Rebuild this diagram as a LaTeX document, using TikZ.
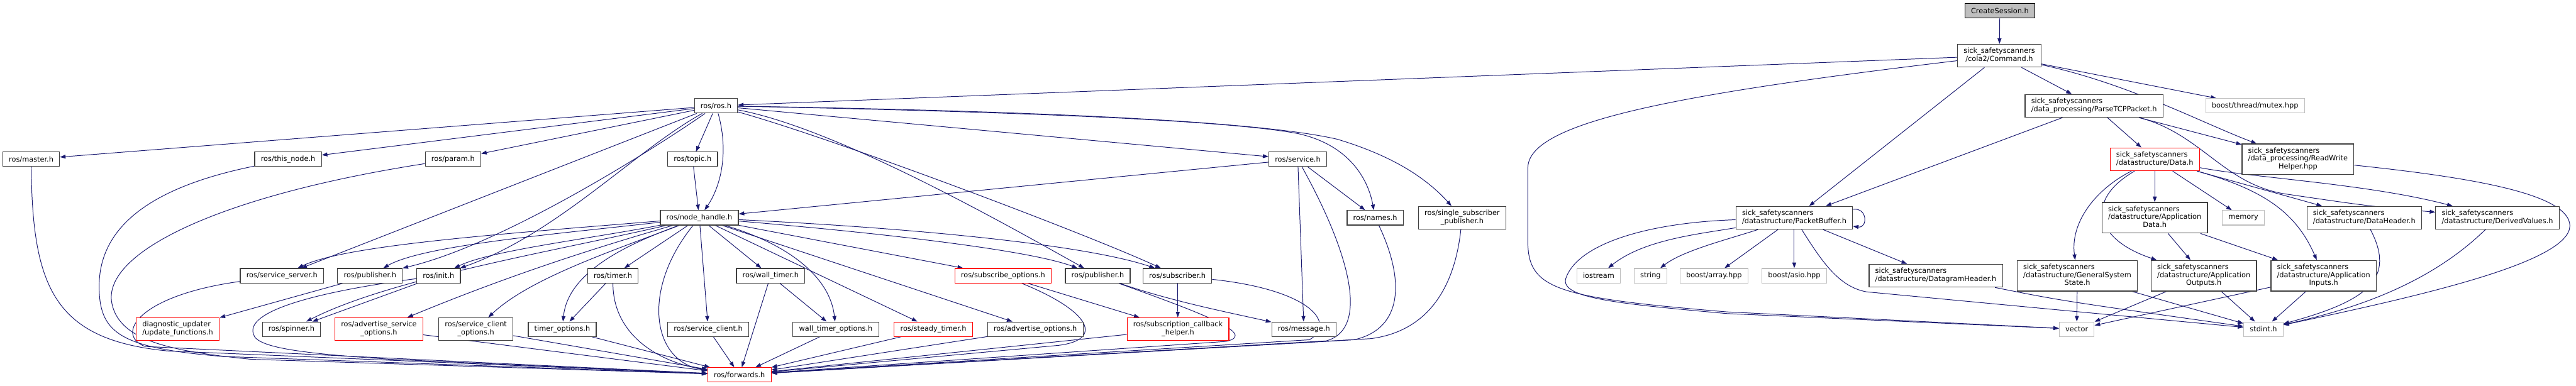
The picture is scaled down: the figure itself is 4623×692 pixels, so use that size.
\documentclass[tikz,border=0pt]{standalone}
\usepackage{fontspec}
\setmainfont{DejaVu Sans}
\usetikzlibrary{arrows.meta,calc}
\pgfdeclarelayer{bg}
\pgfsetlayers{bg,main}
\definecolor{edgec}{HTML}{191970}
\definecolor{nodeline}{HTML}{404040}
\definecolor{extline}{HTML}{BFBFBF}
\definecolor{csfill}{HTML}{BFBFBF}
\newcommand{\twol}[2]{\begin{tabular}{@{}l@{}}#1\\\multicolumn{1}{@{}c@{}}{#2}\end{tabular}}
\begin{document}
\begin{tikzpicture}[x=1pt,y=-1pt,
  box/.style={draw=nodeline,line width=1.3pt,fill=white,inner xsep=11pt,inner ysep=0pt,minimum height=26pt,font=\fontsize{12.8}{14}\selectfont},
  two/.style={minimum height=41pt},
  three/.style={minimum height=55pt},
  trunc/.style={draw=red},
  ext/.style={draw=extline},
  e/.style={draw=edgec,line width=1.1pt,-{Triangle[length=10pt,width=7pt]}}]
\useasboundingbox (0,0) rectangle (4623,692);
% ---- ROS nodes
\node[box] (ros) at (1285,190) {ros/ros.h};
\node[box] (master) at (56,286) {ros/master.h};
\node[box] (thisnode) at (517,286) {ros/this\_node.h};
\node[box] (param) at (813,286) {ros/param.h};
\node[box] (topic) at (1243,286) {ros/topic.h};
\node[box] (service) at (2329,286) {ros/service.h};
\node[box] (nh) at (1255,391) {ros/node\_handle.h};
\node[box] (names) at (2468,391) {ros/names.h};
\node[box,two] (ssp) at (2624,391) {\twol{ros/single\_subscriber}{\_publisher.h}};
\node[box] (sserver) at (506,495) {ros/service\_server.h};
\node[box] (pubL) at (664,495) {ros/publisher.h};
\node[box] (init) at (787,495) {ros/init.h};
\node[box] (timer) at (1100,495) {ros/timer.h};
\node[box] (wtimer) at (1383,495) {ros/wall\_timer.h};
\node[box,trunc] (subopt) at (1800,495) {ros/subscribe\_options.h};
\node[box] (pubR) at (1970,495) {ros/publisher.h};
\node[box] (sub) at (2113,495) {ros/subscriber.h};
\node[box,two,trunc] (diag) at (319,591) {\twol{diagnostic\_updater}{/update\_functions.h}};
\node[box] (spinner) at (523,591) {ros/spinner.h};
\node[box,two,trunc] (aso) at (680,591) {\twol{ros/advertise\_service}{\_options.h}};
\node[box,two] (sco) at (854,591) {\twol{ros/service\_client}{\_options.h}};
\node[box] (topt) at (1009,591) {timer\_options.h};
\node[box] (sclient) at (1271,591) {ros/service\_client.h};
\node[box] (wtopt) at (1500,591) {wall\_timer\_options.h};
\node[box,trunc] (stimer) at (1675,591) {ros/steady\_timer.h};
\node[box] (aopt) at (1858,591) {ros/advertise\_options.h};
\node[box,two,trunc] (sch) at (2114,591) {\twol{ros/subscription\_callback}{\_helper.h}};
\node[box] (msg) at (2340,591) {ros/message.h};
\node[box,trunc] (fwd) at (1327,673) {ros/forwards.h};
% ---- sick nodes
\node[box,fill=csfill,draw=black] (cs) at (3589,19) {CreateSession.h};
\node[box,two] (cmd) at (3588,100) {\twol{sick\_safetyscanners}{/cola2/Command.h}};
\node[box,two] (ptcp) at (3758,190) {\twol{sick\_safetyscanners}{/data\_processing/ParseTCPPacket.h}};
\node[box,ext] (mutex) at (4047,190) {boost/thread/mutex.hpp};
\node[box,two,trunc] (data) at (3867,286) {\twol{sick\_safetyscanners}{/datastructure/Data.h}};
\node[box,three] (rwh) at (4124,286) {\twol{sick\_safetyscanners\\/data\_processing/ReadWrite}{Helper.hpp}};
\node[box,two] (pb) at (3220,391) {\twol{sick\_safetyscanners}{/datastructure/PacketBuffer.h}};
\node[box,three] (appdata) at (3867,391) {\twol{sick\_safetyscanners\\/datastructure/Application}{Data.h}};
\node[box,ext] (memory) at (4026,391) {memory};
\node[box,two] (dh) at (4243,391) {\twol{sick\_safetyscanners}{/datastructure/DataHeader.h}};
\node[box,two] (dv) at (4482,391) {\twol{sick\_safetyscanners}{/datastructure/DerivedValues.h}};
\node[box,ext] (iostream) at (2869,495) {iostream};
\node[box,ext] (string) at (2962,495) {string};
\node[box,ext] (array) at (3076,495) {boost/array.hpp};
\node[box,ext] (asio) at (3220,495) {boost/asio.hpp};
\node[box,two] (dgh) at (3474,495) {\twol{sick\_safetyscanners}{/datastructure/DatagramHeader.h}};
\node[box,three] (gss) at (3728,495) {\twol{sick\_safetyscanners\\/datastructure/GeneralSystem}{State.h}};
\node[box,three] (aout) at (3955,495) {\twol{sick\_safetyscanners\\/datastructure/Application}{Outputs.h}};
\node[box,three] (ain) at (4170,495) {\twol{sick\_safetyscanners\\/datastructure/Application}{Inputs.h}};
\node[box,ext] (vector) at (3727,591) {vector};
\node[box,ext] (stdint) at (4062,591) {stdint.h};
\begin{pgfonlayer}{bg}
% ---- sick edges
\draw[e] (cs) -- (cmd);
\draw[e] (cmd) -- (ros);
\draw[e] (cmd) -- (ptcp);
\draw[e] (cmd) -- (pb);
\draw[e] (cmd) .. controls (3820,150) and (3950,220) .. (rwh);
\draw[e] (cmd) -- (mutex);
\draw[e] (cmd) .. controls (3000,170) and (2745,220) .. (2742,300) -- (2742,440) .. controls (2745,520) and (2800,535) .. (3100,560) -- (vector);
\draw[e] (ptcp) -- (pb);
\draw[e] (ptcp) -- (data);
\draw[e] (ptcp) -- (rwh);
\draw[e] (ptcp) .. controls (3950,240) and (3990,330) .. (4100,348) .. controls (4250,370) .. (dv);
\draw[e] (data) -- (appdata);
\draw[e] (data) -- (memory);
\draw[e] (data) -- (dh);
\draw[e] (data) .. controls (4050,320) and (4250,330) .. (dv);
\draw[e] (data) .. controls (4060,340) and (4120,380) .. (ain);
\draw[e] (data) .. controls (3760,340) and (3715,400) .. (gss);
\draw[e] (data) .. controls (3740,360) and (3760,430) .. (aout);
\draw[e] (appdata) -- (aout);
\draw[e] (appdata) -- (ain);
\draw[e] (gss) -- (vector);
\draw[e] (gss) -- (stdint);
\draw[e] (aout) -- (vector);
\draw[e] (aout) -- (stdint);
\draw[e] (ain) -- (vector);
\draw[e] (ain) -- (stdint);
\draw[e] (dh) .. controls (4300,500) and (4250,540) .. (stdint);
\draw[e] (dv) .. controls (4350,520) and (4200,560) .. (stdint);
\draw[e] (rwh) .. controls (4450,320) and (4610,350) .. (4612,405) .. controls (4612,470) and (4350,530) .. (stdint);
\draw[e] (pb) .. controls (3352,372) and (3352,410) .. (pb);
\draw[e] (pb) .. controls (2950,400) and (2830,440) .. (2810,500) .. controls (2800,535) and (2900,545) .. (3100,563) -- (vector);
\draw[e] (pb) .. controls (3050,420) and (2950,430) .. (iostream);
\draw[e] (pb) .. controls (3100,430) and (3020,450) .. (string);
\draw[e] (pb) -- (array);
\draw[e] (pb) -- (asio);
\draw[e] (pb) -- (dgh);
\draw[e] (pb) .. controls (3270,470) and (3300,515) .. (3350,524) -- (stdint);
\draw[e] (dgh) .. controls (3700,540) .. (stdint);
% ---- ros edges
\draw[e] (ros) -- (master);
\draw[e] (ros) -- (thisnode);
\draw[e] (ros) -- (param);
\draw[e] (ros) -- (topic);
\draw[e] (ros) .. controls (1310,280) and (1290,340) .. (nh);
\draw[e] (topic) -- (nh);
\draw[e] (ros) -- (service);
\draw[e] (ros) .. controls (1800,200) and (2200,215) .. (2330,240) .. controls (2420,260) and (2455,320) .. (names);
\draw[e] (ros) .. controls (1800,198) and (2250,215) .. (2400,250) .. controls (2500,280) and (2560,320) .. (ssp);
\draw[e] (ros) .. controls (1500,230) and (1800,400) .. (pubR);
\draw[e] (ros) .. controls (1500,250) and (1950,420) .. (sub);
\draw[e] (ros) -- (sserver);
\draw[e] (ros) .. controls (1140,270) and (1000,420) .. (init);
\draw[e] (ros) .. controls (1170,270) and (900,440) .. (pubL);
\draw[e] (nh) .. controls (900,420) and (620,440) .. (sserver);
\draw[e] (nh) .. controls (1000,420) and (760,440) .. (pubL);
\draw[e] (nh) .. controls (1050,430) and (880,450) .. (init);
\draw[e] (nh) .. controls (1000,450) and (700,500) .. (spinner);
\draw[e] (nh) .. controls (1050,450) and (900,500) .. (aso);
\draw[e] (nh) .. controls (1100,450) and (950,500) .. (sco);
\draw[e] (nh) .. controls (1150,430) and (1020,480) .. (topt);
\draw[e] (nh) -- (timer);
\draw[e] (nh) .. controls (1150,520) and (1170,650) .. (fwd);
\draw[e] (nh) -- (sclient);
\draw[e] (nh) -- (wtimer);
\draw[e] (nh) .. controls (1420,440) and (1490,500) .. (wtopt);
\draw[e] (nh) -- (stimer);
\draw[e] (nh) -- (aopt);
\draw[e] (nh) -- (subopt);
\draw[e] (nh) .. controls (1600,420) and (1850,450) .. (pubR);
\draw[e] (nh) .. controls (1650,410) and (1950,440) .. (sub);
\draw[e] (service) -- (nh);
\draw[e] (service) -- (names);
\draw[e] (service) -- (msg);
\draw[e] (service) .. controls (2420,450) and (2460,590) .. (2380,612) -- (fwd);
\draw[e] (names) .. controls (2520,500) and (2520,590) .. (2430,610) -- (fwd);
\draw[e] (ssp) .. controls (2610,520) and (2560,595) .. (2460,608) -- (fwd);
\draw[e] (sub) .. controls (2350,520) and (2400,580) .. (2350,610) -- (fwd);
\draw[e] (sub) -- (sch);
\draw[e] (pubR) .. controls (2100,540) and (2200,560) .. (msg);
\draw[e] (pubR) .. controls (2150,560) and (2260,600) .. (2200,613) -- (fwd);
\draw[e] (subopt) -- (sch);
\draw[e] (subopt) .. controls (1960,560) and (1980,610) .. (1900,620) -- (fwd);
\draw[e] (sch) -- (fwd);
\draw[e] (aopt) -- (fwd);
\draw[e] (stimer) -- (fwd);
\draw[e] (wtopt) -- (fwd);
\draw[e] (wtimer) -- (wtopt);
\draw[e] (wtimer) -- (fwd);
\draw[e] (sclient) -- (fwd);
\draw[e] (timer) -- (topt);
\draw[e] (timer) .. controls (1100,600) and (1180,650) .. (fwd);
\draw[e] (topt) -- (fwd);
\draw[e] (sco) -- (fwd);
\draw[e] (aso) -- (fwd);
\draw[e] (master) .. controls (58,520) and (100,610) .. (300,630) -- (fwd);
\draw[e] (thisnode) .. controls (250,340) and (175,420) .. (178,520) .. controls (180,600) and (220,625) .. (400,640) -- (fwd);
\draw[e] (param) .. controls (400,350) and (190,450) .. (200,540) .. controls (210,610) and (300,630) .. (450,645) -- (fwd);
\draw[e] (sserver) .. controls (250,530) and (205,600) .. (260,622) -- (fwd);
\draw[e] (init) .. controls (560,525) and (440,560) .. (455,600) .. controls (460,625) and (550,635) .. (700,645) -- (fwd);
\draw[e] (init) -- (spinner);
\draw[e] (pubL) -- (diag);
\end{pgfonlayer}
\end{tikzpicture}
\end{document}
